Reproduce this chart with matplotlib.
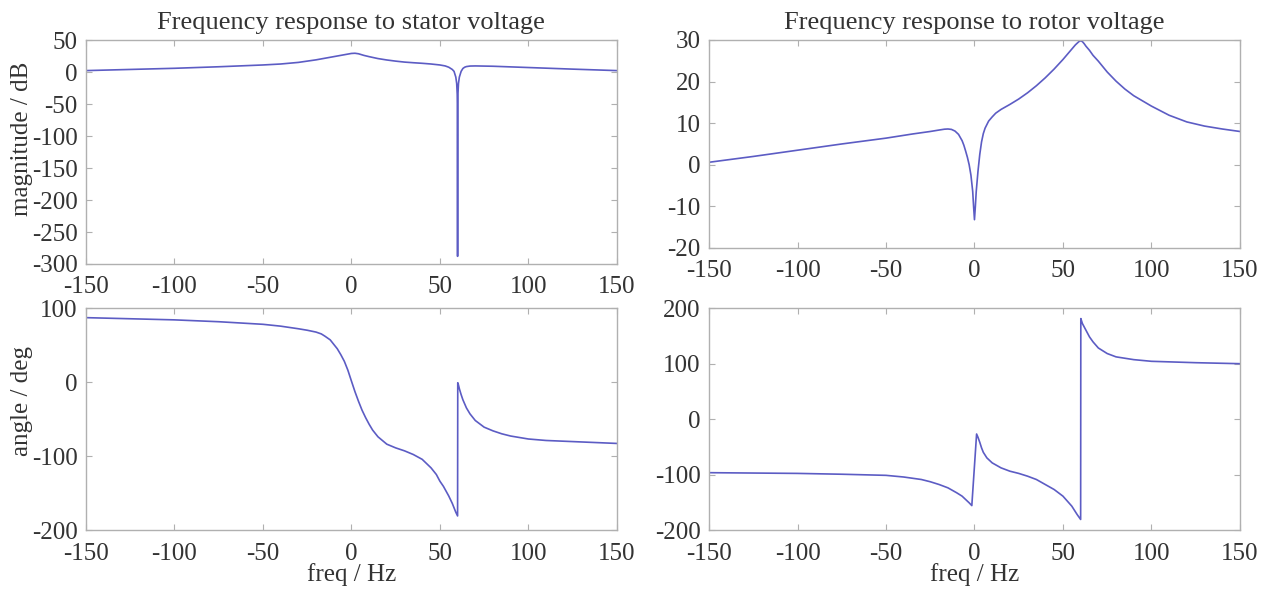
import numpy as np
import matplotlib.pyplot as plt

plt.rcParams['font.family'] = ['Liberation Serif', 'DejaVu Serif']
plt.rcParams['axes.unicode_minus'] = False

# stator voltage response: magnitude (dB)
f_mag_s = [-150, -125, -100, -75, -50, -40, -30, -25, -20, -15, -10, -5, 0, 2, 4, 7, 10, 15, 20, 25,
           30, 35, 40, 45, 50, 53, 55, 57, 58, 59, 59.5, 59.8, 59.95, 60, 60.05, 60.2, 60.5, 61,
           62, 63, 64, 65, 67, 70, 80, 90, 100, 125, 150]
mag_s = [2.2, 4.0, 5.8, 8.2, 11, 12.5, 15, 17, 19, 21.5, 24, 26.5, 29, 29.3, 28.5, 26, 24, 21, 18.8, 17,
         15.5, 14.5, 13.6, 12.5, 11, 9.5, 7.5, 4, 1, -8, -18, -35, -70, -288, -70, -35, -18, -8,
         1, 5.5, 7.5, 8.5, 9.3, 9.5, 9.0, 8.0, 7.0, 4.5, 2.2]

# stator voltage response: angle (deg)
f_ang_s = [-150, -125, -100, -75, -50, -40, -30, -25, -20, -17, -15, -12, -10, -8, -6, -4, -2, 0,
           2, 4, 6, 8, 10, 12, 15, 18, 20, 25, 30, 35, 40, 45, 48, 50, 52, 55, 57, 58, 59, 60,
           60.1, 60.5, 61, 62, 63, 65, 67, 70, 75, 80, 85, 90, 100, 110, 125, 150]
ang_s = [87, 85.5, 84, 81.5, 78, 75.5, 72, 70, 67.5, 65, 62, 57, 51, 45, 37, 28, 16, 1.4,
         -13, -26, -38, -48, -57, -65, -74, -80, -84, -89, -93, -98, -104.5, -116, -125, -134, -141, -154, -164, -170, -176, -181,
         -1, -4, -9, -17, -24, -35, -43, -52, -61, -66, -70, -73, -77, -79, -80.5, -83]

# rotor voltage response: magnitude (dB)
f_mag_r = [-150, -125, -100, -75, -50, -35, -25, -20, -17, -15, -13, -11, -9, -7, -6, -5, -4, -3, -2, -1,
           -0.5, 0, 0.5, 1, 2, 3, 4, 5, 6, 8, 10, 12, 15, 20, 25, 30, 35, 40, 45, 50, 53, 55, 57,
           58, 59, 60, 61, 62, 63, 65, 67, 70, 75, 80, 85, 90, 100, 110, 120, 130, 140, 150]
mag_r = [0.6, 2.0, 3.5, 5.0, 6.4, 7.4, 8.0, 8.35, 8.55, 8.6, 8.5, 8.1, 7.3, 5.8, 4.7, 3.3, 1.8, 0, -2.5, -6.4,
         -10, -13.2, -10, -6.4, -1.5, 2.5, 5.5, 7.5, 8.8, 10.5, 11.5, 12.4, 13.3, 14.5, 15.8, 17.3, 19, 20.9, 23, 25.3, 26.8, 27.8, 28.8,
         29.2, 29.6, 29.8, 29.6, 29.1, 28.5, 27.5, 26.3, 24.9, 22.3, 20.1, 18.2, 16.6, 14.1, 11.9, 10.3, 9.3, 8.6, 8.0]

# rotor voltage response: angle (deg)
f_ang_r = [-150, -100, -75, -50, -40, -30, -25, -20, -15, -10, -7, -5, -3, -1.5, 1.2, 2, 3, 4, 5, 7,
           10, 15, 20, 25, 30, 35, 40, 45, 50, 55, 58, 60, 60.1, 60.5, 61, 62, 63, 65, 67, 70, 75,
           80, 90, 100, 125, 150]
ang_r = [-96.7, -98, -99.5, -101.5, -104.5, -109, -113, -118, -124, -133, -139, -145, -151, -156, -27, -33, -42, -52, -60, -70,
         -79, -88, -94, -98, -103, -109, -118, -127, -139, -157, -172, -181, 181, 177, 172, 166, 160, 148, 139, 128, 118,
         112, 107, 104, 101.5, 99.7]

line_color = '#5c5cc4'
text_color = '#333333'
spine_color = '#b0b0b0'

fig = plt.figure(figsize=(12.7, 5.91), dpi=100)
ax1 = fig.add_axes([0.0677, 0.5533, 0.418, 0.379])
ax2 = fig.add_axes([0.5583, 0.5804, 0.418, 0.352])
ax3 = fig.add_axes([0.0677, 0.1032, 0.418, 0.3756])
ax4 = fig.add_axes([0.5583, 0.1032, 0.418, 0.3756])

ax1.plot(f_mag_s, mag_s, color=line_color, lw=1.2)
ax2.plot(f_mag_r, mag_r, color=line_color, lw=1.2)
ax3.plot(f_ang_s, ang_s, color=line_color, lw=1.2)
ax4.plot(f_ang_r, ang_r, color=line_color, lw=1.2)

ax1.set_ylim(-300, 50)
ax1.set_yticks(np.arange(-300, 51, 50))
ax2.set_ylim(-20, 30)
ax2.set_yticks(np.arange(-20, 31, 10))
ax3.set_ylim(-200, 100)
ax3.set_yticks([-200, -100, 0, 100])
ax4.set_ylim(-200, 200)
ax4.set_yticks([-200, -100, 0, 100, 200])

for ax in [ax1, ax2, ax3, ax4]:
    ax.set_xlim(-150, 150)
    ax.set_xticks(np.arange(-150, 151, 50))
    ax.tick_params(direction='in', top=True, right=True, length=4, width=0.8,
                   color=spine_color, labelcolor=text_color, labelsize=18, pad=6)
    ax.tick_params(axis='x', pad=9)
    for s in ax.spines.values():
        s.set_color(spine_color)
        s.set_linewidth(1.0)

ax1.set_title("Frequency response to stator voltage", fontsize=19, color=text_color, pad=8)
ax2.set_title("Frequency response to rotor voltage", fontsize=19, color=text_color, pad=8)
ax1.set_ylabel("magnitude / dB", fontsize=18, color=text_color)
ax3.set_ylabel("angle / deg", fontsize=18, color=text_color)
ax1.yaxis.set_label_coords(-0.1, 0.56)
ax3.yaxis.set_label_coords(-0.1, 0.58)
ax3.set_xlabel("freq / Hz", fontsize=18, color=text_color, labelpad=-1)
ax4.set_xlabel("freq / Hz", fontsize=18, color=text_color, labelpad=-1)

plt.savefig("out.png", dpi=100)
